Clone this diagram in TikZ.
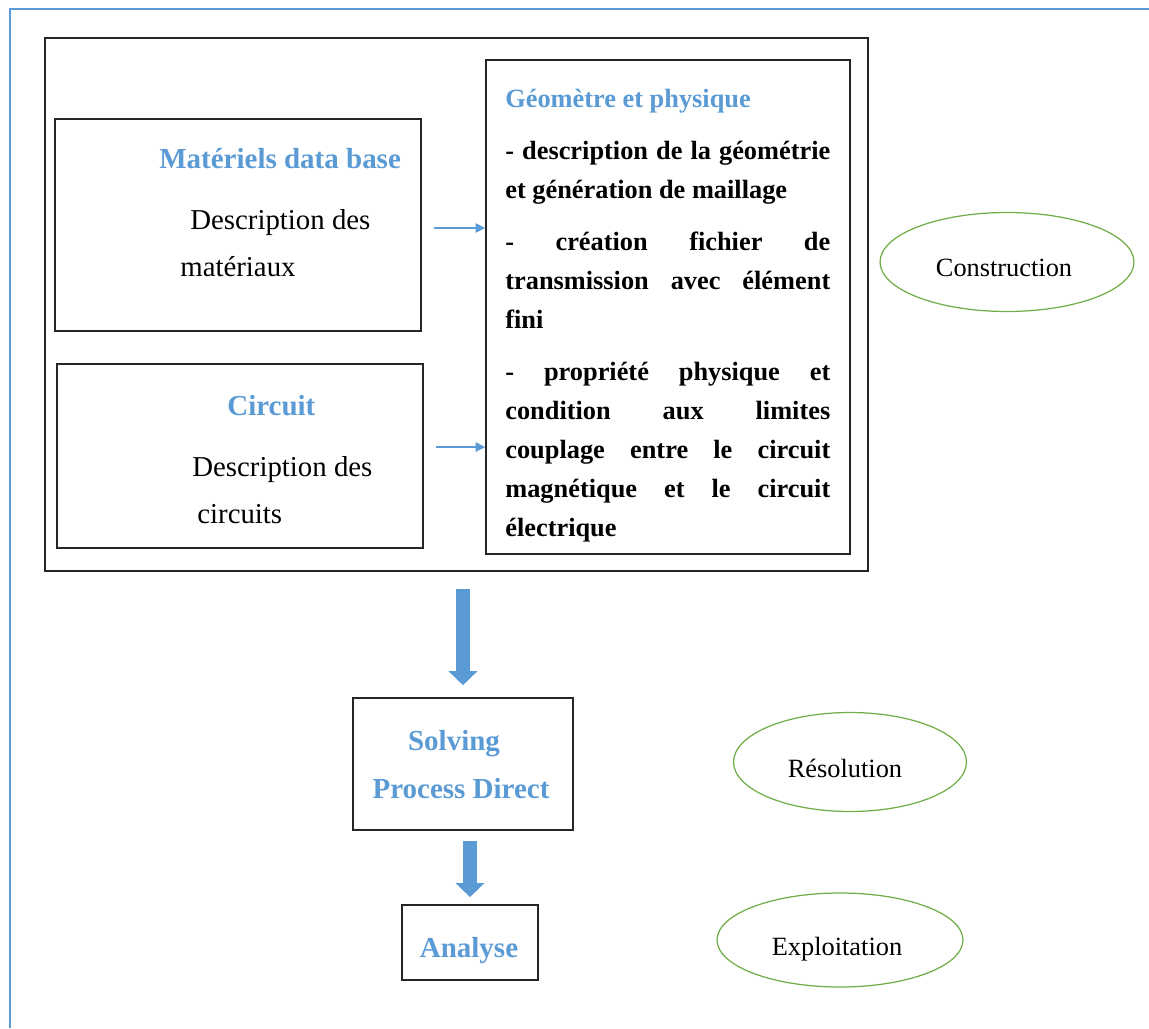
\documentclass[tikz,border=0pt]{standalone}
\usepackage{fontspec}
\setmainfont{Liberation Serif}
\usepackage{tikz}
\usetikzlibrary{arrows.meta}
\usepgflibrary{shapes}

\definecolor{headblue}{RGB}{91,155,213}
\definecolor{ovalgreen}{RGB}{112,173,71}

\tikzset{
  box/.style={draw=black!85, line width=1pt, inner sep=0pt},
  oval/.style={ellipse, draw=ovalgreen, line width=0.7pt, font=\fontsize{15}{18}\selectfont},
  ovaltext/.style={font=\fontsize{15}{18}\selectfont, inner sep=0pt, anchor=base},
  headtext/.style={text=headblue, font=\bfseries\fontsize{16.5}{20}\selectfont, inner sep=0pt},
  bodytext/.style={font=\fontsize{16.4}{20}\selectfont, inner sep=0pt},
  link/.style={draw=headblue, line width=0.7pt, -{Triangle[length=5.5pt,width=5.5pt]}},
  bigarrow/.style={draw=headblue, line width=7.8pt, -{Triangle[length=8pt,width=16pt]}}
}

\begin{document}
\begin{tikzpicture}[x=0.02cm,y=-0.02cm]
      \useasboundingbox (0,0) rectangle (1149,1028);
      \draw[headblue, line width=1.2pt] (10,1028) -- (10,9) -- (1149,9);

      \node[name=outer, box, minimum width=16.46cm, minimum height=10.66cm] at (456.5,304.5) {};
      \node[name=mat, box, minimum width=7.32cm, minimum height=4.24cm] at (238,225) {};
      \node[name=circuit, box, minimum width=7.32cm, minimum height=3.68cm] at (240,456) {};
      \node[name=geo, box, minimum width=7.28cm, minimum height=9.88cm] at (668,307) {};
      \node[name=solving, box, minimum width=4.4cm, minimum height=2.64cm] at (463,764) {};
      \node[name=analyse, box, minimum width=2.72cm, minimum height=1.5cm] at (470,942.5) {};

      \node[name=mattitle, headtext, anchor=base west] at (159,168) {Matériels data base};
      \node[name=matline1, bodytext, anchor=base west] at (190,229) {Description des};
      \node[name=matline2, bodytext, anchor=base west] at (180,276) {matériaux};

      \node[name=circtitle, headtext, anchor=base west] at (227,415) {Circuit};
      \node[name=circline1, bodytext, anchor=base west] at (192,476) {Description des};
      \node[name=circline2, bodytext, anchor=base west] at (197,523) {circuits};

      \node[name=geotitle, headtext, anchor=base west, font=\bfseries\fontsize{15}{18}\selectfont] at (505,107) {Géomètre et physique};
      \node[name=geotext, anchor=north west, text width=6.5cm, align=justify, inner sep=0pt,
            font=\bfseries\fontsize{15}{22.2}\selectfont,
            execute at begin node={\setlength{\parindent}{0pt}\setlength{\parskip}{7.4pt}}] at (505,141)
            {- description de la géométrie\linebreak et génération de maillage\par
             - création fichier de\linebreak transmission avec élément\linebreak fini\par
             - propriété physique et\linebreak condition aux limites\linebreak couplage entre le circuit\linebreak magnétique et le circuit\linebreak électrique};

      \node[name=solvetitle, headtext, anchor=base] at (454,750) {Solving};
      \node[name=solvesub, headtext, anchor=base] at (461,798) {Process Direct};
      \node[name=analysetitle, headtext, anchor=base] at (469,957) {Analyse};

      \node[name=construction, oval, minimum width=5.08cm, minimum height=1.98cm] at (1007,262) {};
      \node[name=resolution, oval, minimum width=4.66cm, minimum height=1.98cm] at (850,762) {};
      \node[name=exploitation, oval, minimum width=4.92cm, minimum height=1.88cm] at (840,940) {};
      \node[name=constrtext, ovaltext] at (1004,276) {Construction};
      \node[name=resoltext, ovaltext] at (845,777) {Résolution};
      \node[name=exploittext, ovaltext] at (837,955) {Exploitation};

      \draw[link, shorten <=6.8pt] ([yshift=-1.7pt]mat.east) -- ([yshift=-1.7pt]mat.east -| geo.west);
      \draw[link, shorten <=6.8pt] ([yshift=5.1pt]circuit.east) -- ([yshift=5.1pt]circuit.east -| geo.west);
      \draw[bigarrow, shorten <=9.7pt, shorten >=6.8pt] (solving.north |- outer.south) -- (solving.north);
      \draw[bigarrow, shorten <=5.7pt, shorten >=4pt] (analyse.north |- solving.south) -- (analyse.north);
   \end{tikzpicture}
\end{document}
